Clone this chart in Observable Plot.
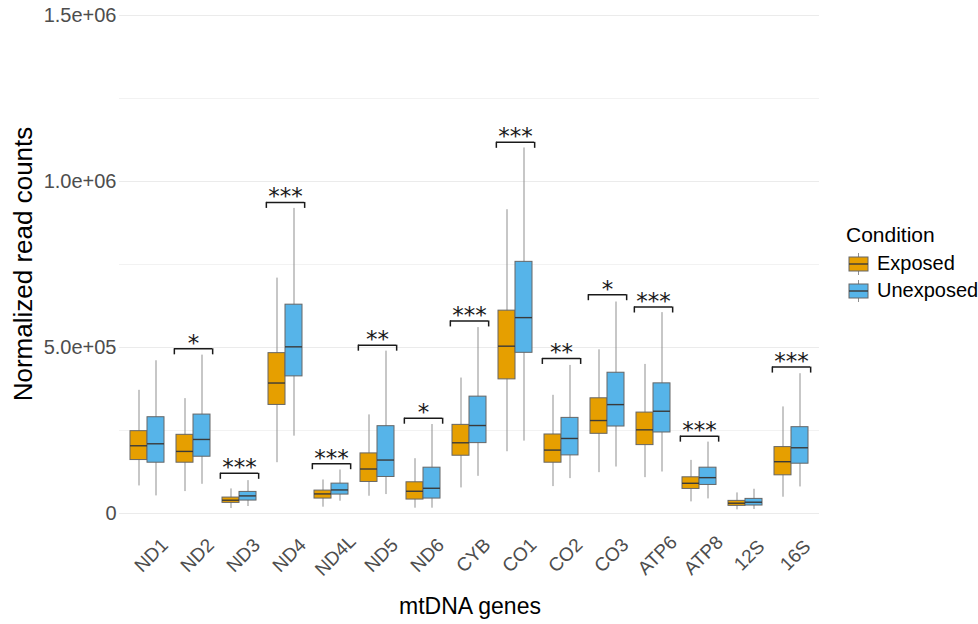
<!DOCTYPE html>
<html><head><meta charset="utf-8">
<script src="https://cdn.jsdelivr.net/npm/d3@7"></script>
<script src="https://cdn.jsdelivr.net/npm/@observablehq/plot@0.6"></script>
<style>
body{margin:0;background:#fff;font-family:"Liberation Sans",Arial,sans-serif;}
#wrap{position:relative;width:978px;height:624px;overflow:hidden;}
#wrap svg.plot{position:absolute;left:0;top:0;}
#wrap svg.plot g[aria-label^="y-axis"] text{font-size:20px;}
.ttl{position:absolute;color:#000;white-space:nowrap;line-height:1;}
#ylab{left:23px;top:264px;font-size:26px;transform:translate(-50%,-50%) rotate(-90deg);}
#xlab{left:470px;top:606px;font-size:23px;transform:translate(-50%,-50%);}
#legend{position:absolute;left:846px;top:222px;color:#000;}
#legend .t{font-size:21px;margin-bottom:3px;line-height:1.2;}
#legend .it{display:flex;align-items:center;height:27px;font-size:20px;}
#legend .it svg{margin-right:8px;margin-left:2px;}
</style></head><body>
<div id="wrap"></div>
<script>
const genes = ["ND1","ND2","ND3","ND4","ND4L","ND5","ND6","CYB","CO1","CO2","CO3","ATP6","ATP8","12S","16S"];
const conditions = ["Exposed","Unexposed"];
const colors = ["#E69F00","#56B4E9"];

// Exposed box statistics
const expMin = [83000, 66000, 15000, 153000, 19000, 52000, 16000, 77000, 186000, 81000, 123000, 108000, 35000, 11000, 49000];
const expQ1  = [161000, 153000, 32000, 327000, 45000, 95000, 42000, 174000, 404000, 153000, 240000, 206000, 74000, 23000, 115000];
const expMed = [204000, 187000, 40000, 393000, 59000, 134000, 67000, 213000, 504000, 191000, 280000, 252000, 91000, 31000, 156000];
const expQ3  = [248000, 237000, 48000, 483000, 69000, 181000, 94000, 267000, 611000, 238000, 347000, 304000, 109000, 38000, 200000];
const expMax = [371000, 346000, 74000, 709000, 101000, 297000, 165000, 408000, 915000, 356000, 493000, 449000, 160000, 62000, 321000];

// Unexposed box statistics
const unxMin = [53000, 88000, 21000, 233000, 37000, 57000, 16000, 112000, 218000, 105000, 140000, 125000, 44000, 12000, 80000];
const unxQ1  = [153000, 171000, 39000, 413000, 57000, 110000, 45000, 212000, 484000, 175000, 262000, 244000, 86000, 24000, 150000];
const unxMed = [210000, 223000, 53000, 502000, 71000, 161000, 76000, 265000, 590000, 226000, 328000, 308000, 108000, 34000, 198000];
const unxQ3  = [290000, 298000, 65000, 629000, 90000, 263000, 138000, 352000, 758000, 288000, 424000, 392000, 138000, 44000, 260000];
const unxMax = [460000, 477000, 99000, 919000, 131000, 489000, 268000, 560000, 1101000, 446000, 637000, 605000, 215000, 73000, 421000];

// Significance brackets
const sigLabels = ["", "*", "***", "***", "***", "**", "*", "***", "***", "**", "*", "***", "***", "", "***"];
const sigY = [null, 496000, 121000, 937000, 150000, 507000, 287000, 580000, 1118000, 467000, 659000, 622000, 233000, null, 441000];

const yTicks = [0, 500000, 1000000, 1500000];
const yTickLabels = ["0", "5.0e+05", "1.0e+06", "1.5e+06"];
const yMinor = [250000, 750000, 1250000];

const rows = [];
genes.forEach((g, i) => {
  rows.push({gene: g, condition: "Exposed", min: expMin[i], q1: expQ1[i], med: expMed[i], q3: expQ3[i], max: expMax[i]});
  rows.push({gene: g, condition: "Unexposed", min: unxMin[i], q1: unxQ1[i], med: unxMed[i], q3: unxQ3[i], max: unxMax[i]});
});
const sig = genes.map((g, i) => ({gene: g, label: sigLabels[i], y: sigY[i]})).filter(d => d.y != null);

const W = 978, H = 624, mL = 118, mR = 158, mT = 15, mB = 111;
const fxOuter = 0.1;
const step = (W - mL - mR) / (genes.length + 2 * fxOuter);
const bw = step * 0.375;

const chart = Plot.plot({
  width: W, height: H,
  marginLeft: mL, marginRight: mR, marginTop: mT, marginBottom: mB,
  style: {fontFamily: "Liberation Sans, Arial, sans-serif", fontSize: "19px", color: "#4d4d4d", background: "transparent"},
  fx: {domain: genes, paddingInner: 0, paddingOuter: fxOuter, axis: null, label: null},
  x: {domain: conditions, paddingInner: 0, paddingOuter: 1/3, axis: null},
  y: {domain: [0, 1500000], ticks: yTicks, tickFormat: (d) => yTickLabels[yTicks.indexOf(d)], tickSize: 0, tickPadding: 8, label: null},
  color: {domain: conditions, range: colors},
  marks: [
    Plot.ruleY(yMinor, {stroke: "#f2f2f2", strokeWidth: 1, insetLeft: -5, insetRight: -5}),
    Plot.ruleY(yTicks, {stroke: "#ebebeb", strokeWidth: 1.2, insetLeft: -5, insetRight: -5}),
    Plot.ruleX(rows, {fx: "gene", x: "condition", y1: "min", y2: "max", stroke: "#8f8f8f", strokeWidth: 1}),
    Plot.barY(rows, {fx: "gene", x: "condition", y1: "q1", y2: "q3", fill: "condition", stroke: "#666666", strokeWidth: 1}),
    Plot.tickY(rows, {fx: "gene", x: "condition", y: "med", stroke: "#3a3a3a", strokeWidth: 1.4}),
    Plot.ruleY(sig, {fx: "gene", x1: () => "Exposed", x2: () => "Unexposed", y: "y", stroke: "#1a1a1a", strokeWidth: 1.5, insetLeft: -2, insetRight: -2}),
    Plot.ruleX(sig, {fx: "gene", x: () => "Exposed", y1: "y", y2: "y", insetBottom: -6, dx: -(bw / 2 + 2), stroke: "#1a1a1a", strokeWidth: 1.5}),
    Plot.ruleX(sig, {fx: "gene", x: () => "Unexposed", y1: "y", y2: "y", insetBottom: -6, dx: (bw / 2 + 2), stroke: "#1a1a1a", strokeWidth: 1.5}),
    Plot.text(sig, {fx: "gene", y: "y", text: "label", lineAnchor: "bottom", dy: 2, fontSize: 23, fill: "#1a1a1a", fontFamily: "DejaVu Sans"}),
    Plot.text(genes, {fx: (d) => d, text: (d) => d, frameAnchor: "bottom", rotate: -45, textAnchor: "middle", lineAnchor: "middle", dx: 4, dy: 42, fontSize: 19, fill: "#4d4d4d"})
  ]
});
chart.classList.add("plot");
const wrap = document.getElementById("wrap");
wrap.appendChild(chart);

function keySvg(c) {
  return `<svg width="21" height="22" viewBox="0 0 21 22"><line x1="10.5" x2="10.5" y1="0" y2="22" stroke="#8f8f8f"/><rect x="1" y="4" width="19" height="14" fill="${c}" stroke="#666"/><line x1="1" x2="20" y1="11" y2="11" stroke="#3a3a3a" stroke-width="1.4"/></svg>`;
}
const leg = document.createElement("div");
leg.id = "legend";
leg.innerHTML = `<div class="t">Condition</div>` + conditions.map((c, i) => `<div class="it">${keySvg(colors[i])}<span>${c}</span></div>`).join("");
wrap.appendChild(leg);
const yl = document.createElement("div"); yl.className = "ttl"; yl.id = "ylab"; yl.textContent = "Normalized read counts"; wrap.appendChild(yl);
const xl = document.createElement("div"); xl.className = "ttl"; xl.id = "xlab"; xl.textContent = "mtDNA genes"; wrap.appendChild(xl);
</script>
</body></html>
